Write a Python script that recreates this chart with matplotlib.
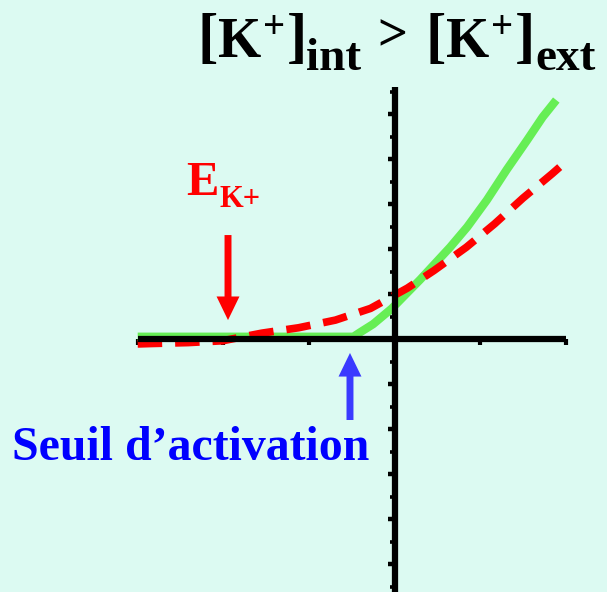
import matplotlib
matplotlib.use("Agg")
import matplotlib.pyplot as plt
from matplotlib.ticker import FixedLocator, NullFormatter

# Current-voltage curves of the K+ channel (arbitrary units)
v_green = [-3.0, -0.48, -0.40, -0.25, -0.03, 0.30, 0.65, 0.85, 1.08, 1.31, 1.55, 1.73, 1.89]
i_green = [0.05, 0.05, 0.15, 0.33, 0.68, 1.32, 2.04, 2.49, 3.09, 3.76, 4.42, 4.93, 5.31]

v_red = [-3.0, -2.83, -2.41, -2.01, -1.55, -1.12, -0.69, -0.28, 0.15, 0.46, 0.84, 1.17, 1.50, 1.84, 1.96]
i_red = [-0.11, -0.10, -0.08, -0.04, 0.13, 0.25, 0.42, 0.68, 1.13, 1.52, 2.04, 2.56, 3.13, 3.67, 3.87]

x_ticks = [-3, -2, -1, 1, 2]
y_major = [-5, -4, -3, -2, -1, 1, 2, 3, 4, 5]
y_minor = [-5.5, -4.5, -3.5, -2.5, -1.5, -0.5, 0.5, 1.5, 2.5, 3.5, 4.5, 5.5]
e_k = -1.945         # reversal potential of K+
threshold = -0.52    # activation threshold

label_threshold = "Seuil d\u2019activation"

W, H = 607, 592
bg = "#dcfaf2"
serif = "Liberation Serif"

fig = plt.figure(figsize=(W / 100, H / 100), dpi=100, facecolor=bg)
ax = fig.add_axes([0, 0, 1, 1], facecolor=bg)
x0, y0, ux, uy = 394.5, 339.0, 85.6, 45.0
ax.set_xlim(-x0 / ux, (W - x0) / ux)
ax.set_ylim(-(H - y0) / uy, y0 / uy)


def px(x, y):
    """Figure fraction for a position given in pixels from the top-left."""
    return x / W, 1 - y / H


ax.plot(v_green, i_green, color="#66ee55", lw=6, solid_capstyle="butt",
        solid_joinstyle="round", zorder=2)
ax.plot(v_red, i_red, color="#ff0000", lw=5.5, dashes=(3.2, 1.7),
        dash_capstyle="butt", zorder=3)

# Axes crossing at the origin
for side in ("top", "right"):
    ax.spines[side].set_visible(False)
ax.spines["left"].set_position(("data", 0))
ax.spines["bottom"].set_position(("data", 0))
ax.spines["left"].set_bounds(-(H - y0) / uy, (y0 - 87) / uy)
ax.spines["bottom"].set_bounds(-3, 2)
for side in ("left", "bottom"):
    ax.spines[side].set_linewidth(4.5)
    ax.spines[side].set_zorder(5)
    ax.spines[side].set_capstyle("butt")

ax.xaxis.set_major_locator(FixedLocator(x_ticks))
ax.yaxis.set_major_locator(FixedLocator(y_major))
ax.yaxis.set_minor_locator(FixedLocator(y_minor))
ax.xaxis.set_major_formatter(NullFormatter())
ax.yaxis.set_major_formatter(NullFormatter())
ax.tick_params(axis="x", which="major", direction="out", length=4, width=3, color="black")
ax.tick_params(axis="y", which="major", direction="out", length=5.2, width=3.2, color="black")
ax.tick_params(axis="y", which="minor", direction="out", length=3.4, width=2.6, color="black")

# Arrows marking E_K+ and the activation threshold
arrow = "simple,head_length=17,head_width=16.5,tail_width=5"
ax.annotate("", xy=(e_k, 0.42), xytext=(e_k, 2.31),
            arrowprops=dict(arrowstyle=arrow, mutation_scale=1, color="#ff0000", lw=0,
                            shrinkA=0, shrinkB=0), zorder=6)
ax.annotate("", xy=(threshold, -0.31), xytext=(threshold, -1.8),
            arrowprops=dict(arrowstyle=arrow, mutation_scale=1, color="#3a3aff", lw=0,
                            shrinkA=0, shrinkB=0), zorder=6)

# E_K+ label
fig.text(*px(186, 195), "E", color="#ff0000", fontsize=35, fontweight="bold",
         family=serif, ha="left", va="baseline")
fig.text(*px(219, 207), "K+", color="#ff0000", fontsize=22, fontweight="bold",
         family=serif, ha="left", va="baseline")

# Threshold label
fig.text(*px(12, 460), label_threshold, color="#0000ff", fontsize=34.5,
         fontweight="bold", family=serif, ha="left", va="baseline")

# Title: [K+]int > [K+]ext
title_parts = [
    ("[", 197, 56, 44), ("K", 218, 57, 40), ("+", 263, 38, 28), ("]", 287, 56, 44),
    ("int", 306, 70, 34), (">", 377, 50, 38),
    ("[", 425, 56, 44), ("K", 446, 57, 40), ("+", 491, 38, 28), ("]", 515, 56, 44),
    ("ext", 535, 70, 34),
]
for s, x, y, size in title_parts:
    fig.text(*px(x, y), s, color="black", fontsize=size, fontweight="bold",
             family=serif, ha="left", va="baseline")

fig.savefig("out.png", dpi=100, facecolor=bg)
